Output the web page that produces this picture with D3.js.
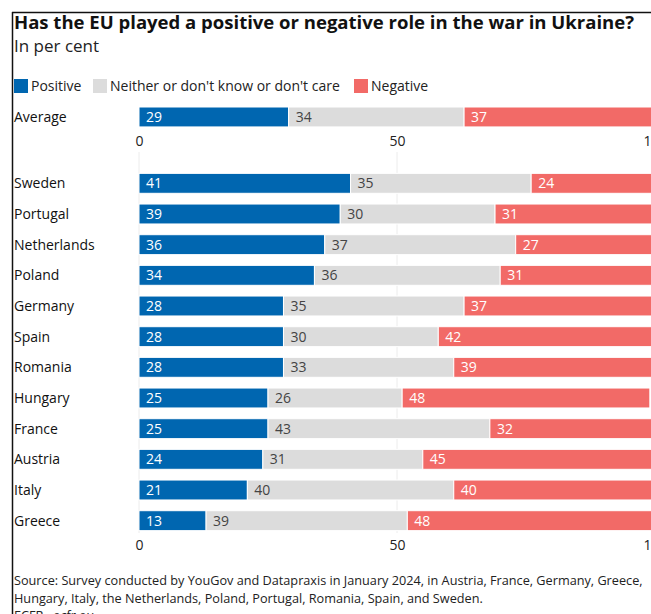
<!DOCTYPE html>
<html>
<head>
<meta charset="utf-8">
<script src="https://cdn.jsdelivr.net/npm/d3@7"></script>
<style>
  body { margin: 0; background: #fff; }
  svg { display: block; font-family: "Open Sans", Lato, sans-serif; }
</style>
</head>
<body>
<div id="chart"></div>
<script>
// chart values
let countries = ['Sweden', 'Portugal', 'Netherlands', 'Poland', 'Germany', 'Spain',
  'Romania', 'Hungary', 'France', 'Austria', 'Italy', 'Greece']
let positive = [41, 39, 36, 34, 28, 28, 28, 25, 25, 24, 21, 13]
let neither = [35, 30, 37, 36, 35, 30, 33, 26, 43, 31, 40, 39]
let negative = [24, 31, 27, 31, 37, 42, 39, 48, 32, 45, 40, 48]
let average = [29, 34, 37]
let seriesNames = ['Positive', 'Neither or don\'t know or don\'t care', 'Negative']
let tickValues = [0, 50, 100]

let width = 651, height = 614
let colors = ['#0066b0', '#dcdcdc', '#f26a67']
let textColors = ['#fff', '#444', '#fff']

let svg = d3.select('#chart')
  .append('svg')
  .attr('width', width)
  .attr('height', height)

let x = d3.scaleLinear().domain([0, 100]).range([139, 655])

let y = d3.scaleBand()
  .domain(countries)
  .range([168, 536])
  .paddingInner(0.35)
  .paddingOuter(0.175)

let barH = y.bandwidth()
let avgY = 107

// frame lines (top + left)
svg.append('line').attr('x1', 12).attr('x2', width).attr('y1', 12.5).attr('y2', 12.5)
  .attr('stroke', '#111').attr('stroke-width', 1.5)
svg.append('line').attr('x1', 12.5).attr('x2', 12.5).attr('y1', 12).attr('y2', height)
  .attr('stroke', '#111').attr('stroke-width', 1.5)

// title
svg.append('text').attr('x', 14).attr('y', 29)
  .text('Has the EU played a positive or negative role in the war in Ukraine?')
  .style('font-size', '17.5px').style('font-weight', 'bold').attr('fill', '#111')
  .attr('textLength', 620).attr('lengthAdjust', 'spacingAndGlyphs')
svg.append('text').attr('x', 14).attr('y', 52)
  .text('In per cent')
  .style('font-size', '17px').attr('fill', '#222')

// legend
let legendX = [14, 93, 354]
seriesNames.forEach((name, i) => {
  let g = svg.append('g').attr('transform', 'translate(' + legendX[i] + ',79)')
  g.append('rect').attr('width', 14).attr('height', 14).attr('fill', colors[i])
  g.append('text').attr('x', 17).attr('y', 12).text(name)
    .style('font-size', '14px').attr('fill', '#222')
})

// gridlines behind the country bars
svg.append('g').selectAll('line')
  .data(tickValues)
  .enter().append('line')
  .attr('x1', d => x(d)).attr('x2', d => x(d))
  .attr('y1', 152).attr('y2', 533)
  .attr('stroke', '#ececec')

function stackRow (vals) {
  let start = 0
  return vals.map((v, i) => {
    let seg = { i: i, v: v, x0: start, x1: start + v }
    start += v
    return seg
  })
}

function drawRow (g, vals, top) {
  let segs = stackRow(vals)
  g.selectAll('.seg')
    .data(segs)
    .enter().append('rect')
    .attr('class', 'seg')
    .attr('x', d => x(d.x0))
    .attr('width', d => x(d.x1) - x(d.x0))
    .attr('y', top)
    .attr('height', barH)
    .attr('fill', d => colors[d.i])
    .attr('stroke', '#fff')
    .attr('stroke-width', 1)
  g.selectAll('.val')
    .data(segs)
    .enter().append('text')
    .attr('class', 'val')
    .attr('x', d => x(d.x0) + 7)
    .attr('y', top + barH / 2 + 5)
    .text(d => d.v)
    .style('font-size', '14px')
    .attr('fill', d => textColors[d.i])
}

// average row
let avgG = svg.append('g')
avgG.append('text').attr('x', 14).attr('y', avgY + barH / 2 + 5)
  .text('Average').style('font-size', '14px').attr('fill', '#111')
drawRow(avgG, average, avgY)

// country rows
countries.forEach((c, k) => {
  let g = svg.append('g')
  g.append('text').attr('x', 14).attr('y', y(c) + barH / 2 + 5)
    .text(c).style('font-size', '14px').attr('fill', '#111')
  drawRow(g, [positive[k], neither[k], negative[k]], y(c))
})

// axes (top one under the average, bottom one under the countries)
function drawAxis (yPos) {
  let ax = svg.append('g')
    .attr('transform', 'translate(0,' + yPos + ')')
    .call(d3.axisBottom(x).tickValues(tickValues).tickSize(0).tickPadding(0))
  ax.select('.domain').remove()
  ax.selectAll('text')
    .style('font-size', '14px')
    .style('font-family', '"Open Sans", Lato, sans-serif')
    .attr('fill', '#222')
}
drawAxis(136)
drawAxis(540)

// source
let source = ['Source: Survey conducted by YouGov and Datapraxis in January 2024, in Austria, France, Germany, Greece,',
  'Hungary, Italy, the Netherlands, Poland, Portugal, Romania, Spain, and Sweden.',
  'ECFR · ecfr.eu']
svg.append('g').selectAll('text')
  .data(source)
  .enter().append('text')
  .attr('x', 14)
  .attr('y', (d, i) => 585 + i * 17.5)
  .text(d => d)
  .style('font-size', '12.7px')
  .attr('fill', '#222')
</script>
</body>
</html>
